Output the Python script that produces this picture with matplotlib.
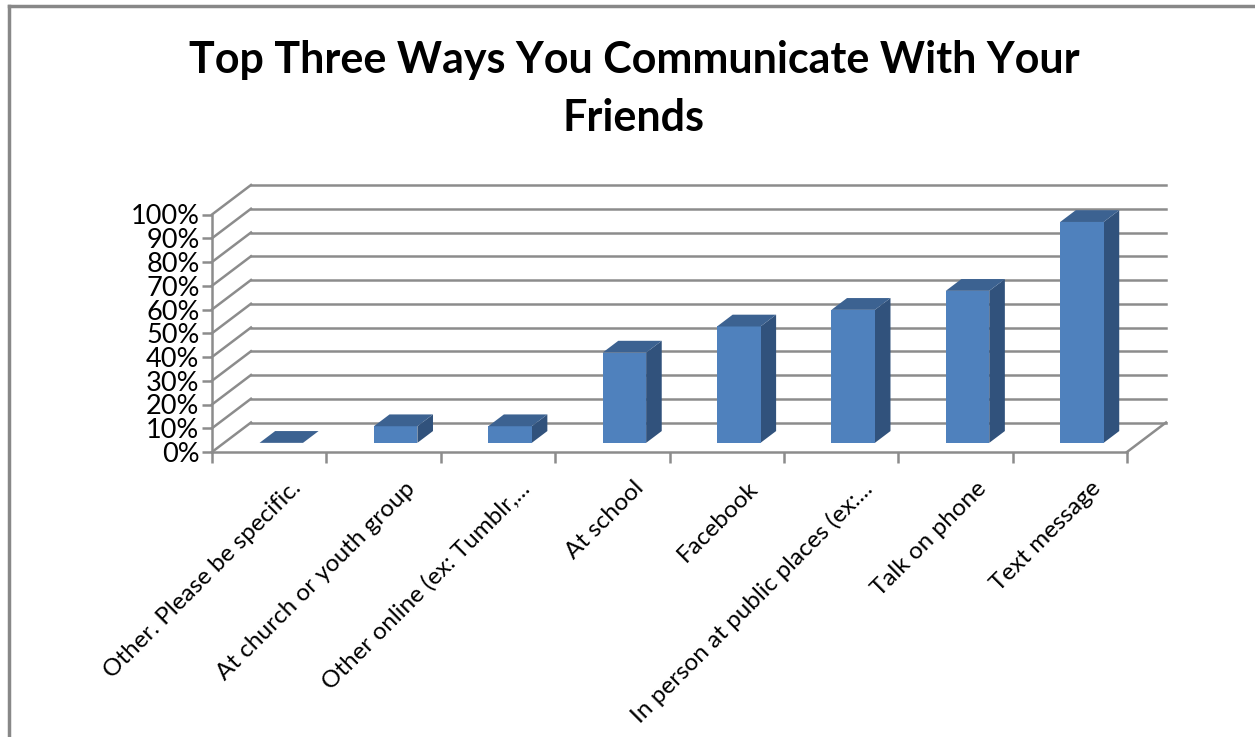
import matplotlib
matplotlib.use("Agg")
import matplotlib.pyplot as plt
from matplotlib.patches import Polygon, Rectangle
from matplotlib.transforms import offset_copy

categories = [
    "Other. Please be specific.",
    "At church or youth group",
    "Other online (ex: Tumblr,...",
    "At school",
    "Facebook",
    "In person at public places (ex:...",
    "Talk on phone",
    "Text message",
]
shares = [0.0, 0.07, 0.07, 0.38, 0.49, 0.56, 0.64, 0.93]
y_ticks = [i / 10 for i in range(11)]
y_tick_labels = [f"{i * 10}%" for i in range(11)]
title = "Top Three Ways You Communicate With Your\nFriends"

FONT = "Lato"
GRID = "#8c8c8c"
FRONT = "#4f81bd"
TOP = "#3c6291"
SIDE = "#31527c"

W, H, DPI = 1255, 737, 100
fig = plt.figure(figsize=(W / DPI, H / DPI), dpi=DPI)

# front plane of the plot in pixels
left_px, right_px, base_px, top_px = 212, 1127, 452, 214.5
ax = fig.add_axes([left_px / W, (H - base_px) / H,
                   (right_px - left_px) / W, (base_px - top_px) / H])
n = len(categories)
ax.set_xlim(-0.5, n - 0.5)
ax.set_ylim(0, 1)

# depth of the box, converted from pixels to data units
px_x = (right_px - left_px) / n
px_y = base_px - top_px
DX = 39 / px_x
DY = 29.5 / px_y

# back wall gridlines and side-wall diagonals
for y in y_ticks:
    ax.plot([-0.5 + DX, n - 0.5 + DX], [y + DY, y + DY], color=GRID,
            lw=1.8, clip_on=False, zorder=1)
    ax.plot([-0.5, -0.5 + DX], [y, y + DY], color=GRID, lw=1.8,
            clip_on=False, zorder=1)
ax.plot([n - 0.5, n - 0.5 + DX], [0, DY], color=GRID, lw=1.8,
        clip_on=False, zorder=1)

# 3d bars
f0, f1 = 0.31, 0.71
bw = 0.38
for i, v in enumerate(shares):
    xl, xr = i - bw / 2, i + bw / 2
    side = [(xr + f0 * DX, f0 * DY), (xr + f1 * DX, f1 * DY),
            (xr + f1 * DX, v + f1 * DY), (xr + f0 * DX, v + f0 * DY)]
    topf = [(xl + f0 * DX, v + f0 * DY), (xr + f0 * DX, v + f0 * DY),
            (xr + f1 * DX, v + f1 * DY), (xl + f1 * DX, v + f1 * DY)]
    if v > 0:
        ax.add_patch(Polygon(side, closed=True, facecolor=SIDE,
                             edgecolor="none", clip_on=False, zorder=3))
        ax.add_patch(Rectangle((xl + f0 * DX, f0 * DY), bw, v,
                               facecolor=FRONT, edgecolor="none",
                               clip_on=False, zorder=3))
    ax.add_patch(Polygon(topf, closed=True, facecolor=TOP,
                         edgecolor="none", clip_on=False, zorder=4))

for s in ["top", "right"]:
    ax.spines[s].set_visible(False)
for s in ["left", "bottom"]:
    ax.spines[s].set_color(GRID)
    ax.spines[s].set_linewidth(1.8)
    ax.spines[s].set_zorder(2)

ax.set_yticks(y_ticks, y_tick_labels, fontsize=19.5, family=FONT)
ax.tick_params(axis="y", length=7, width=1.8, color=GRID, pad=2)
ax.set_xticks([i - 0.5 for i in range(n + 1)], [""] * (n + 1))
ax.tick_params(axis="x", length=8, width=1.8, color=GRID)

for i, lab in enumerate(categories):
    tr = offset_copy(ax.transData, fig=fig, x=28, y=-33, units="dots")
    ax.text(i, 0, lab, transform=tr, rotation=45, rotation_mode="anchor",
            ha="right", va="center", fontsize=17.5, family=FONT)

fig.text(634 / W, 1 - 40 / H, title, ha="center", va="top",
         fontsize=31, fontweight="bold", family=FONT, linespacing=1.55)

# outer frame (left and top edges)
fig.add_artist(plt.Line2D([9 / W, 9 / W], [0, 1 - 6 / H], color="#888888",
                          lw=2.5, transform=fig.transFigure))
fig.add_artist(plt.Line2D([9 / W, 1], [1 - 6 / H, 1 - 6 / H], color="#888888",
                          lw=2.5, transform=fig.transFigure))

fig.savefig("out.png", dpi=DPI)
